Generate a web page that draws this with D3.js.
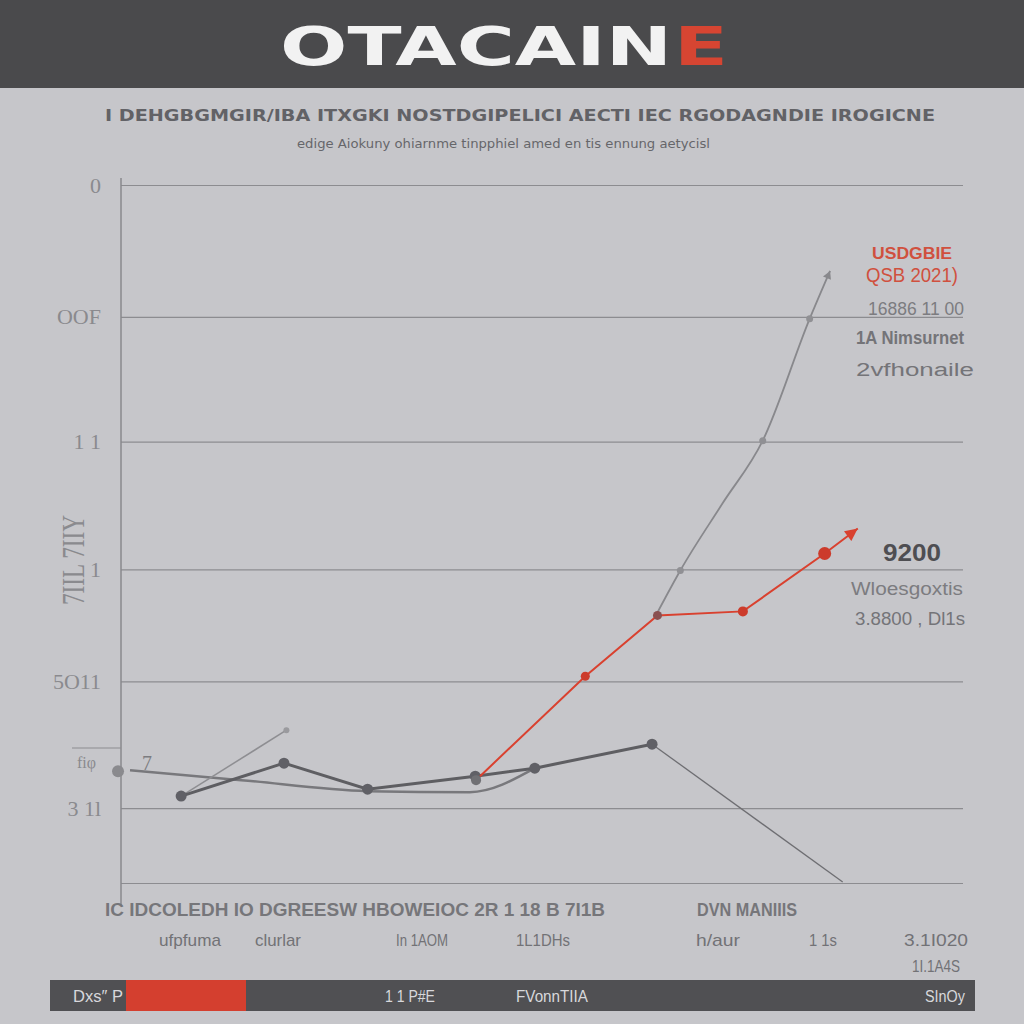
<!DOCTYPE html>
<html><head><meta charset="utf-8">
<script src="https://cdn.jsdelivr.net/npm/d3@7"></script>
<style>html,body{margin:0;padding:0;background:#c6c6ca;}svg{display:block;}</style>
</head><body>
<script>
// ---- data ----
const yTickValues = [0, 75, 202, 314, 442, 567, 699];
const yTickLabels = ["", "3 1l", "5O11", "1", "1   1", "OOF", "0"];
const primaryX = [1.0, 2.71, 4.1, 5.89, 6.88, 8.83];
const primaryY = [87, 120, 94, 107, 115, 139];
const secondaryX = [0.15, 2.0, 4.1, 5.8, 6.88];
const secondaryY = [113, 103, 92, 91, 115];
const branchX = [1.0, 2.75];
const branchY = [87, 153];
const declineX = [8.83, 12.0];
const declineY = [139, 1];
const redX = [5.97, 7.72, 8.92, 10.34, 11.7, 12.25];
const redY = [107, 207, 268, 272, 330, 355];
const upperX = [8.92, 9.3, 10.0, 10.67, 11.45, 11.79];
const upperY = [271, 313, 380, 443, 565, 613];
const xLabelsRow1 = ["IC  IDCOLEDH IO  DGREESW  HBOWEIOC  2R 1 18 B 7I1B", "DVN MANIIIS"];
const xLabelsRow2 = ["ufpfuma", "clurlar", "In 1AOM", "1L1DHs", "h/aur", "1 1s", "3.1I020"];
const footerLabels = ["Dxs\u2033 P", "1 1 P#E", "FVonnTIIA", "SInOy"];

const W = 1024, H = 1024;
const svg = d3.select("body").append("svg").attr("width", W).attr("height", H);
svg.append("rect").attr("width", W).attr("height", H).attr("fill", "#c6c6ca");

// header
svg.append("rect").attr("x", 0).attr("y", 0).attr("width", W).attr("height", 88).attr("fill", "#4a4a4c");
svg.append("text").attr("x", 280).attr("y", 65).attr("font-family", "DejaVu Sans").attr("font-weight", "bold")
  .attr("font-size", 54).attr("fill", "#f2f2f2").attr("textLength", 392).attr("lengthAdjust", "spacingAndGlyphs").text("OTACAIN");
svg.append("text").attr("x", 674).attr("y", 65).attr("font-family", "DejaVu Sans").attr("font-weight", "bold")
  .attr("font-size", 54).attr("fill", "#d64532").attr("textLength", 54).attr("lengthAdjust", "spacingAndGlyphs").text("E");

// subtitles
svg.append("text").attr("x", 105).attr("y", 121).attr("font-family", "DejaVu Sans").attr("font-weight", "bold")
  .attr("font-size", 16).attr("fill", "#626266").attr("textLength", 830).attr("lengthAdjust", "spacingAndGlyphs")
  .text("I DEHGBGMGIR/IBA  ITXGKI  NOSTDGIPELICI  AECTI IEC  RGODAGNDIE  IROGICNE");
svg.append("text").attr("x", 297).attr("y", 148).attr("font-family", "DejaVu Sans")
  .attr("font-size", 12).attr("fill", "#66666a").attr("textLength", 413).attr("lengthAdjust", "spacingAndGlyphs")
  .text("edige  Aiokuny  ohiarnme  tinpphiel  amed  en  tis ennung  aetycisl");

// scales
const x = d3.scaleLinear().domain([0, 14]).range([121, 963]);
const y = d3.scaleLinear().domain([0, 700]).range([883, 184]);

// y axis with gridlines
const yAxis = svg.append("g").attr("transform", "translate(121,0)")
  .call(d3.axisLeft(y).tickValues(yTickValues).tickSize(-842).tickPadding(20)
    .tickFormat((d, i) => yTickLabels[i]));
yAxis.select(".domain").remove();
yAxis.selectAll(".tick line").attr("stroke", "#8c8c90").attr("stroke-width", 1.2);
yAxis.selectAll(".tick text").attr("font-family", "Liberation Serif").attr("font-size", 22).attr("fill", "#8a8a8e");

// vertical axis line
svg.append("line").attr("x1", 121).attr("x2", 121).attr("y1", 178).attr("y2", 906)
  .attr("stroke", "#88888c").attr("stroke-width", 1.5);

// extra left decorations
svg.append("line").attr("x1", 72).attr("x2", 121).attr("y1", 748).attr("y2", 748).attr("stroke", "#8c8c90").attr("stroke-width", 1.2);
svg.append("text").attr("x", 96).attr("y", 768).attr("text-anchor", "end").attr("font-family", "Liberation Serif")
  .attr("font-size", 16).attr("fill", "#8a8a8e").text("fi\u03c6");
svg.append("text").attr("transform", "translate(84,560) rotate(-90)").attr("text-anchor", "middle")
  .attr("font-family", "Liberation Serif").attr("font-size", 32).attr("fill", "#8a8a8e")
  .attr("textLength", 90).attr("lengthAdjust", "spacingAndGlyphs").text("7IIL 7IIY");

function pts(xs, ys) { return xs.map((v, i) => [x(v), y(ys[i])]); }
const curve = d3.line().curve(d3.curveMonotoneX);
const straight = d3.line();

// secondary smooth grey line
svg.append("path").attr("d", curve(pts(secondaryX, secondaryY))).attr("fill", "none")
  .attr("stroke", "#78787c").attr("stroke-width", 2.5);
// branch thin line
svg.append("path").attr("d", straight(pts(branchX, branchY))).attr("fill", "none")
  .attr("stroke", "#8e8e92").attr("stroke-width", 1.5);
svg.append("circle").attr("cx", x(branchX[1])).attr("cy", y(branchY[1])).attr("r", 3).attr("fill", "#9a9a9e");
// decline thin line
svg.append("path").attr("d", straight(pts(declineX, declineY))).attr("fill", "none")
  .attr("stroke", "#6e6e72").attr("stroke-width", 1.3);
// primary dark line
svg.append("path").attr("d", straight(pts(primaryX, primaryY))).attr("fill", "none")
  .attr("stroke", "#5e5e62").attr("stroke-width", 3);
svg.selectAll(".pdot").data(pts(primaryX, primaryY)).enter().append("circle")
  .attr("cx", d => d[0]).attr("cy", d => d[1]).attr("r", 5.5).attr("fill", "#606066");
svg.append("circle").attr("cx", x(secondaryX[0]) - 12).attr("cy", y(secondaryY[0]) + 1).attr("r", 6).attr("fill", "#8a8a8e");
svg.append("text").attr("x", 142).attr("y", 770).attr("font-family", "Liberation Serif").attr("font-size", 20)
  .attr("fill", "#7c7c80").text("7");

// upper grey line
svg.append("path").attr("d", curve(pts(upperX, upperY))).attr("fill", "none")
  .attr("stroke", "#88888c").attr("stroke-width", 1.8);
svg.selectAll(".udot").data(pts(upperX, upperY).filter((d, i) => i === 1 || i === 3 || i === 4)).enter().append("circle")
  .attr("cx", d => d[0]).attr("cy", d => d[1]).attr("r", 3.5).attr("fill", "#909094");
{
  const p = pts(upperX, upperY), a = p[p.length - 2], b = p[p.length - 1];
  const ang = Math.atan2(b[1] - a[1], b[0] - a[0]);
  const s = 9;
  svg.append("path").attr("d", `M${b[0]},${b[1]} L${b[0] - s * Math.cos(ang - 0.5)},${b[1] - s * Math.sin(ang - 0.5)} L${b[0] - s * Math.cos(ang + 0.5)},${b[1] - s * Math.sin(ang + 0.5)} Z`)
    .attr("fill", "#88888c");
}

// red line
svg.append("path").attr("d", straight(pts(redX, redY))).attr("fill", "none")
  .attr("stroke", "#d9412f").attr("stroke-width", 2);
const rp = pts(redX, redY);
svg.append("circle").attr("cx", rp[1][0]).attr("cy", rp[1][1]).attr("r", 4.5).attr("fill", "#cc3b2b");
svg.append("circle").attr("cx", rp[2][0]).attr("cy", rp[2][1]).attr("r", 4.5).attr("fill", "#8a5050");
svg.append("circle").attr("cx", rp[3][0]).attr("cy", rp[3][1]).attr("r", 5).attr("fill", "#cc3b2b");
svg.append("circle").attr("cx", rp[4][0]).attr("cy", rp[4][1]).attr("r", 6.5).attr("fill", "#cc3b2b");
svg.append("circle").attr("cx", rp[0][0] - 4).attr("cy", rp[0][1] + 4).attr("r", 5).attr("fill", "#707074");
{
  const a = rp[rp.length - 2], b = rp[rp.length - 1];
  const ang = Math.atan2(b[1] - a[1], b[0] - a[0]);
  const s = 14;
  svg.append("path").attr("d", `M${b[0]},${b[1]} L${b[0] - s * Math.cos(ang - 0.45)},${b[1] - s * Math.sin(ang - 0.45)} L${b[0] - s * Math.cos(ang + 0.45)},${b[1] - s * Math.sin(ang + 0.45)} Z`)
    .attr("fill", "#d9412f");
}

// right annotations
function ann(t, xx, yy, size, fill, bold, len) {
  const e = svg.append("text").attr("x", xx).attr("y", yy).attr("text-anchor", "middle")
    .attr("font-family", "Liberation Sans Narrow, Liberation Sans").attr("font-size", size).attr("fill", fill)
    .attr("font-weight", bold ? "bold" : "normal").text(t);
  if (len) e.attr("textLength", len).attr("lengthAdjust", "spacingAndGlyphs");
}
ann("USDGBIE", 912, 259, 17, "#d0503e", true, 80);
ann("QSB 2021)", 912, 282, 21, "#d0503e", false, 92);
ann("16886 11 00", 916, 315, 18, "#7c7c80", false, 96);
ann("1A Nimsurnet", 910, 344, 18, "#747478", true, 108);
ann("2vfhonaile", 915, 376, 18, "#747478", false, 118);
ann("9200", 912, 561, 24, "#4e4e52", true, 58);
ann("Wloesgoxtis", 907, 595, 18, "#7c7c80", false, 112);
ann("3.8800 , Dl1s", 910, 625, 18, "#747478", false, 110);

// x labels
function xl(t, xx, yy, size, len, fill, bold) {
  svg.append("text").attr("x", xx).attr("y", yy).attr("text-anchor", "middle")
    .attr("font-family", "Liberation Sans Narrow, Liberation Sans").attr("font-size", size).attr("fill", fill || "#727276")
    .attr("font-weight", bold ? "bold" : "normal")
    .attr("textLength", len).attr("lengthAdjust", "spacingAndGlyphs").text(t);
}
xl(xLabelsRow1[0], 355, 916, 18, 500, "#76767a", true);
xl(xLabelsRow1[1], 747, 916, 18, 100, "#76767a", true);
const row2x = [190, 278, 422, 543, 718, 823, 936];
const row2w = [62, 46, 52, 54, 44, 28, 64];
xLabelsRow2.forEach((t, i) => xl(t, row2x[i], 946, 17, row2w[i]));
xl("1I.1A4S", 936, 972, 17, 48);

// footer bar
svg.append("rect").attr("x", 50).attr("y", 980).attr("width", 925).attr("height", 31).attr("fill", "#505053");
svg.append("rect").attr("x", 126).attr("y", 980).attr("width", 120).attr("height", 31).attr("fill", "#d43f2f");
const fx = [98, 410, 552, 945], fw = [50, 50, 72, 40];
footerLabels.forEach((t, i) => xl(t, fx[i], 1002, 16, fw[i], "#d8d8dc"));
</script>
</body></html>
